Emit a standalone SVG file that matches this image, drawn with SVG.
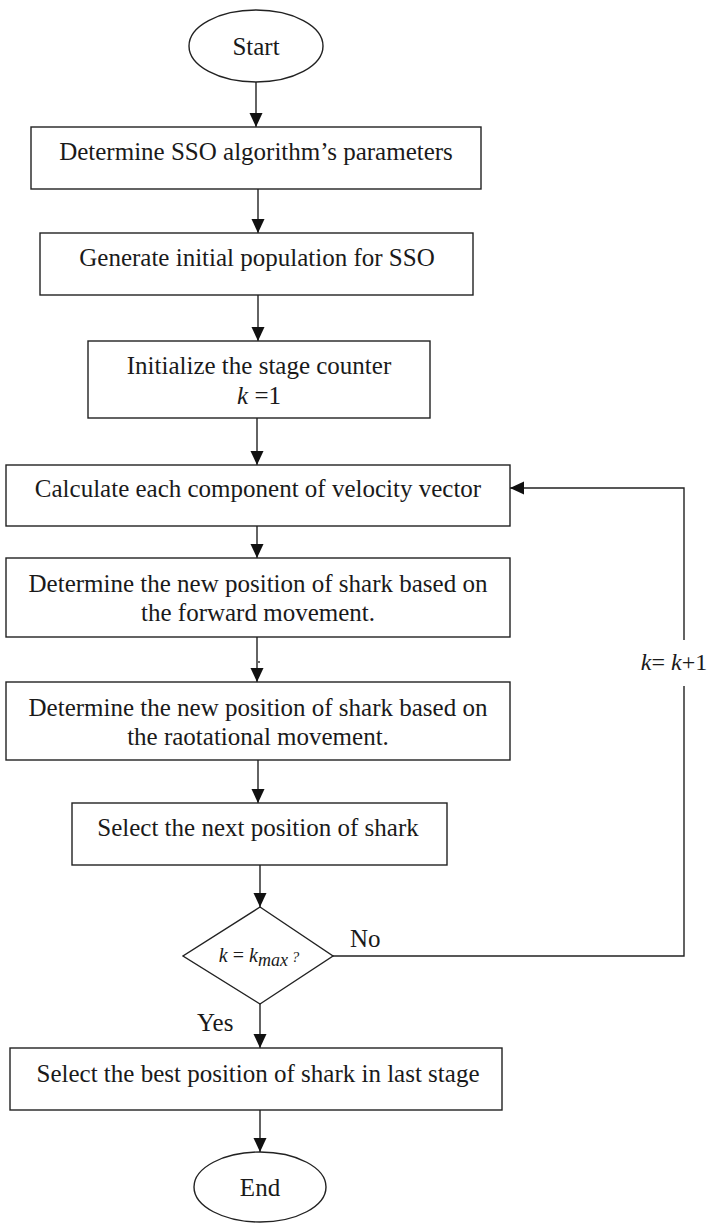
<svg xmlns="http://www.w3.org/2000/svg" width="711" height="1223" viewBox="0 0 711 1223">
  <style>
    .shape { fill: #ffffff; stroke: #222222; stroke-width: 1.4; }
    .edge { fill: none; stroke: #222222; stroke-width: 1.4; }
    .label { font-family: "Liberation Serif", "Times New Roman", Times, "DejaVu Serif", serif; font-size: 25px; fill: #1a1a1a; text-anchor: middle; }
    .left { text-anchor: start; }
    .math { font-family: "Liberation Serif", "Times New Roman", Times, "DejaVu Serif", serif; font-style: italic; fill: #1a1a1a; text-anchor: middle; }
    .up { font-style: normal; }
  </style>
  <defs>
    <marker id="arrow" markerUnits="userSpaceOnUse" markerWidth="14" markerHeight="14" refX="14" refY="6.5" orient="auto">
      <path d="M0,0 L14,6.5 L0,13 Z" fill="#111111"/>
    </marker>
  </defs>

  <rect width="711" height="1223" fill="#ffffff"/>

  <!-- connectors -->
  <g id="connectors">
    <line class="edge" x1="256" y1="82" x2="256" y2="127" marker-end="url(#arrow)"/>
    <line class="edge" x1="258" y1="189" x2="258" y2="233" marker-end="url(#arrow)"/>
    <line class="edge" x1="258" y1="295" x2="258" y2="341" marker-end="url(#arrow)"/>
    <line class="edge" x1="257" y1="418" x2="257" y2="465" marker-end="url(#arrow)"/>
    <line class="edge" x1="257" y1="526" x2="257" y2="558" marker-end="url(#arrow)"/>
    <line class="edge" x1="257" y1="637" x2="257" y2="682" marker-end="url(#arrow)"/>
    <circle cx="259" cy="662" r="0.9" fill="#222222"/>
    <line class="edge" x1="258" y1="760" x2="258" y2="803" marker-end="url(#arrow)"/>
    <line class="edge" x1="260" y1="865" x2="260" y2="907" marker-end="url(#arrow)"/>
    <line class="edge" x1="260" y1="1004" x2="260" y2="1048" marker-end="url(#arrow)"/>
    <line class="edge" x1="260" y1="1110" x2="260" y2="1152" marker-end="url(#arrow)"/>
    <!-- loop back: No branch returns to the velocity step -->
    <path class="edge" d="M333,956 H684 V686"/>
    <path class="edge" d="M684,640 V488 H510" marker-end="url(#arrow)"/>
    <text class="label left" x="350" y="947">No</text>
    <text class="label left" x="197" y="1031">Yes</text>
    <text class="math" x="674" y="670" font-size="24">k<tspan class="up">= </tspan>k<tspan class="up">+1</tspan></text>
  </g>

  <g id="start">
    <ellipse class="shape" cx="256" cy="46" rx="67" ry="36"/>
    <text class="label" x="256" y="55">Start</text>
  </g>

  <g id="set-parameters">
    <rect class="shape" x="31" y="127" width="450" height="62"/>
    <text class="label" x="256" y="160">Determine SSO algorithm’s parameters</text>
  </g>

  <g id="init-population">
    <rect class="shape" x="40" y="233" width="433" height="62"/>
    <text class="label" x="257" y="266">Generate initial population for SSO</text>
  </g>

  <g id="init-counter">
    <rect class="shape" x="88" y="341" width="342" height="77"/>
    <text class="label" x="259" y="374">Initialize the stage counter</text>
    <text class="math" x="259" y="404" font-size="25">k <tspan class="up">=1</tspan></text>
  </g>

  <g id="velocity">
    <rect class="shape" x="6" y="465" width="504" height="61"/>
    <text class="label" x="258" y="497">Calculate each component of velocity vector</text>
  </g>

  <g id="forward-move">
    <rect class="shape" x="6" y="558" width="504" height="79"/>
    <text class="label" x="258" y="592">Determine the new position of shark based on</text>
    <text class="label" x="258" y="621">the forward movement.</text>
  </g>

  <g id="rotational-move">
    <rect class="shape" x="6" y="682" width="504" height="78"/>
    <text class="label" x="258" y="716">Determine the new position of shark based on</text>
    <text class="label" x="258" y="745">the raotational movement.</text>
  </g>

  <g id="select-next">
    <rect class="shape" x="72" y="803" width="375" height="62"/>
    <text class="label" x="258" y="836">Select the next position of shark</text>
  </g>

  <g id="stop-check">
    <polygon class="shape" points="260,907 333,956 260,1004 183,956"/>
    <text class="math" x="259" y="962" font-size="20">k <tspan class="up">=</tspan> k<tspan font-size="18" dy="4">max</tspan><tspan font-size="15" dy="-4"> ?</tspan></text>
  </g>

  <g id="select-best">
    <rect class="shape" x="10" y="1048" width="492" height="62"/>
    <text class="label" x="258" y="1082">Select the best position of shark in last stage</text>
  </g>

  <g id="end">
    <ellipse class="shape" cx="260" cy="1187" rx="66" ry="35"/>
    <text class="label" x="260" y="1196">End</text>
  </g>
</svg>
